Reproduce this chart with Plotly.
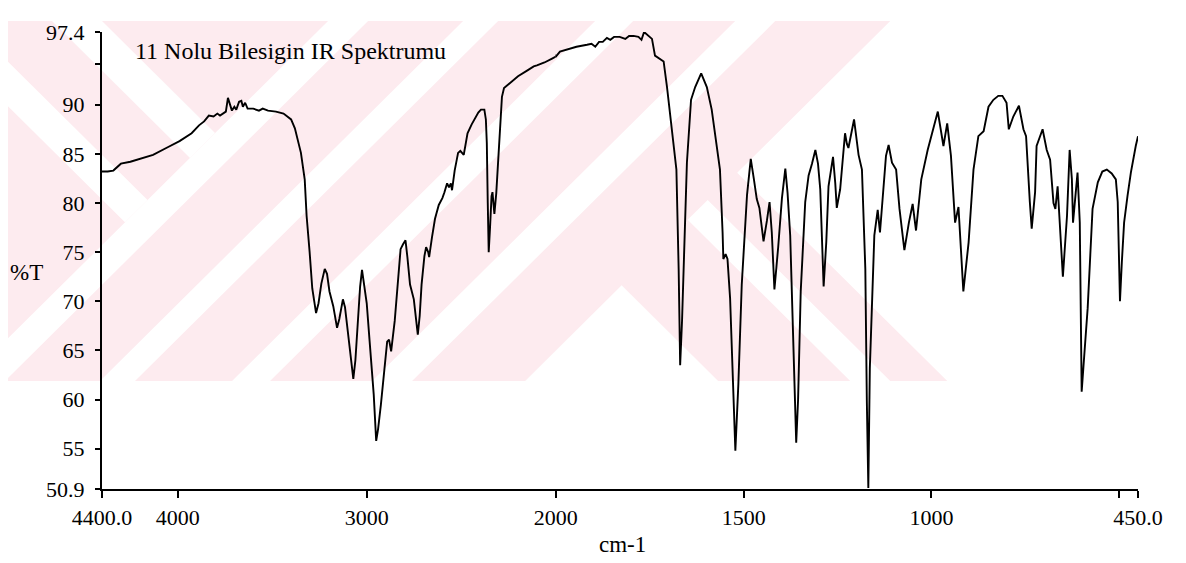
import plotly.graph_objects as go

# ---------------- data ----------------
wavenumber = [
    4400, 4370, 4340, 4300, 4250, 4200, 4130, 4050, 3990, 3926, 3887, 3860, 3835, 3810, 3790, 3776,
    3745, 3734, 3722, 3713, 3700, 3690, 3675, 3663, 3655, 3643, 3630, 3600, 3570, 3550, 3522, 3480,
    3440, 3400, 3380, 3369, 3348, 3328, 3318, 3302, 3288, 3268, 3255, 3240, 3222, 3210, 3197, 3177,
    3157, 3145, 3126, 3115, 3106, 3090, 3071, 3060, 3046, 3035, 3025, 3015, 3000, 2985, 2963, 2950,
    2940, 2925, 2913, 2900, 2892, 2882, 2871, 2852, 2835, 2821, 2808, 2795, 2785, 2771, 2751, 2740,
    2730, 2720, 2710, 2695, 2686, 2675, 2670, 2655, 2639, 2619, 2600, 2589, 2575, 2565, 2555, 2549,
    2535, 2517, 2505, 2487, 2467, 2445, 2427, 2410, 2396, 2378, 2370, 2365, 2360, 2355, 2348, 2340,
    2335, 2325, 2315, 2305, 2295, 2285, 2274, 2255, 2240, 2200, 2150, 2117, 2100, 2060, 2020, 2000,
    1989, 1970, 1945, 1917, 1905, 1895, 1885, 1875, 1864, 1855, 1845, 1830, 1815, 1805, 1793, 1780,
    1772, 1765, 1755, 1744, 1736, 1720, 1713, 1704, 1691, 1679, 1673, 1669, 1664, 1660, 1651, 1640,
    1629, 1613, 1598, 1585, 1563, 1556, 1554, 1548, 1543, 1536, 1527, 1522, 1514, 1505, 1491, 1481,
    1473, 1465, 1458, 1447, 1438, 1431, 1425, 1418, 1408, 1398, 1389, 1383, 1376, 1363, 1360, 1355,
    1348, 1336, 1327, 1318, 1309, 1302, 1296, 1287, 1280, 1274, 1262, 1256, 1252, 1243, 1230, 1225,
    1221, 1206, 1194, 1185, 1176, 1172, 1168, 1164, 1152, 1143, 1137, 1121, 1114, 1105, 1094, 1085,
    1072, 1060, 1050, 1041, 1027, 1010, 996, 983, 968, 958, 948, 941, 937, 928, 915, 901,
    888, 875, 861, 848, 835, 822, 811, 800, 794, 782, 767, 755, 748, 738, 733, 724,
    720, 704, 693, 684, 675, 670, 664, 650, 639, 632, 626, 623, 617, 611, 605, 600,
    594, 584, 571, 557, 545, 533, 520, 509, 504, 500, 498, 493, 487, 478, 469, 456,
    450,
]
transmittance = [
    83.2, 83.2, 83.3, 84.0, 84.2, 84.5, 84.9, 85.7, 86.3, 87.1, 87.9, 88.3, 88.9, 88.8, 89.1, 88.9,
    89.3, 90.7, 89.9, 89.4, 89.8, 89.5, 90.3, 90.4, 89.8, 90.2, 89.6, 89.6, 89.4, 89.6, 89.4, 89.3,
    89.1, 88.5, 87.6, 86.8, 85.1, 82.4, 78.7, 75.0, 71.3, 68.8, 69.8, 71.8, 73.3, 72.8, 71.0, 69.5,
    67.3, 68.2, 70.2, 69.4, 68.0, 65.0, 62.1, 64.0, 68.0, 71.5, 73.2, 72.0, 69.8, 66.0, 60.5, 55.8,
    57.0, 59.5, 61.6, 64.0, 65.9, 66.1, 64.9, 68.0, 72.0, 75.3, 75.8, 76.2, 74.5, 71.7, 70.2, 68.0,
    66.6, 68.5, 71.7, 74.6, 75.5, 75.0, 74.5, 76.5, 78.4, 79.8, 80.5, 81.1, 82.0, 81.6, 82.0, 81.3,
    83.3, 85.1, 85.3, 84.9, 87.1, 88.0, 88.6, 89.2, 89.5, 89.5, 88.5, 86.1, 80.0, 75.0, 77.5, 80.7,
    81.1, 78.9, 81.0, 84.1, 87.5, 90.8, 91.7, 92.0, 92.3, 92.9, 93.5, 93.9, 94.0, 94.3, 94.7, 94.9,
    95.4, 95.6, 95.9, 96.1, 96.2, 95.9, 96.4, 96.4, 96.8, 96.6, 96.9, 96.9, 96.7, 97.0, 97.0, 96.9,
    96.6, 97.4, 97.1, 96.7, 95.0, 94.6, 94.4, 91.8, 87.5, 83.4, 73.3, 63.5, 68.0, 73.3, 84.1, 90.5,
    91.8, 93.2, 91.8, 89.5, 83.4, 77.0, 74.3, 74.8, 74.3, 70.3, 59.9, 54.8, 61.6, 71.7, 80.8, 84.5,
    82.5, 80.4, 79.5, 76.1, 78.2, 80.1, 77.0, 71.2, 75.5, 80.5, 83.5, 81.0, 76.7, 59.9, 55.6, 60.0,
    71.0, 80.1, 82.8, 84.0, 85.4, 84.0, 81.4, 71.5, 76.0, 81.7, 84.7, 82.0, 79.5, 81.4, 87.1, 86.0,
    85.6, 88.5, 84.9, 83.4, 73.3, 59.9, 51.0, 63.2, 76.7, 79.3, 77.0, 84.8, 85.9, 84.1, 83.4, 79.4,
    75.2, 78.0, 79.9, 77.2, 82.4, 85.4, 87.5, 89.3, 85.8, 88.1, 84.8, 80.1, 78.0, 79.6, 71.0, 76.0,
    83.4, 86.8, 87.3, 89.8, 90.5, 90.9, 90.9, 90.2, 87.5, 88.8, 89.9, 87.5, 86.8, 80.1, 77.4, 81.1,
    85.8, 87.5, 85.4, 84.4, 80.0, 79.4, 81.7, 72.5, 78.7, 85.4, 82.4, 78.0, 81.0, 83.1, 78.0, 60.8,
    64.0, 69.3, 79.4, 82.1, 83.2, 83.4, 83.0, 82.4, 80.1, 72.7, 70.0, 74.0, 78.0, 80.7, 83.1, 85.8,
    86.8,
]

x_ticks_high = [4400, 4000, 3000, 2000]
x_labels_high = ["4400.0", "4000", "3000", "2000"]
x_ticks_low = [1500, 1000, 500, 450]
x_labels_low = ["1500", "1000", "", "450.0"]
y_ticks = [50.9, 55, 60, 65, 70, 75, 80, 85, 90, 94.1, 97.4]
y_labels = ["50.9", "55", "60", "65", "70", "75", "80", "85", "90", "", "97.4"]

title_text = "11 Nolu Bilesigin IR Spektrumu"
x_title = "cm-1"
y_title = "%T"

# ---------------- layout geometry (window pixels; page body has an 8px margin) ----------------
OFF = 8
W, H = 1186 - OFF, 563 - OFF
PLOT_L, PLOT_R, PLOT_T, PLOT_B = 102, 1137.7, 28, 489   # plot box in window pixels
L = PLOT_L - OFF
T = PLOT_T - OFF
R = W - (PLOT_R - OFF)
B = H - (PLOT_B - OFF)
PW = PLOT_R - PLOT_L
PH = PLOT_B - PLOT_T
split = 453.7 / 1035.7  # 4400-2000 section width fraction (scale doubles below 2000)

FONT = "Liberation Serif"
PINK = "#fdebef"


def px(x, y):
    """window pixel -> paper coordinates"""
    return (x - PLOT_L) / PW, (PLOT_B - y) / PH


def poly(points, color):
    pts = [px(x, y) for x, y in points]
    path = "M " + " L ".join(f"{a:.5f},{b:.5f}" for a, b in pts) + " Z"
    return dict(type="path", path=path, xref="paper", yref="paper", layer="below",
                fillcolor=color, line=dict(width=0))


# watermark (background decoration of the scanned page)
shapes = [poly([(0, 17), (890, 17), (737, 170), (947, 380), (0, 380)], PINK)]
for u1, u2 in [(345, 385), (480, 515), (612, 650), (752, 792)]:
    shapes.append(poly([(u1 - 17, 17), (u2 - 17, 17), (u2 - 380, 380), (u1 - 380, 380)], "white"))
shapes.append(poly([(52, 17), (102, 17), (215, 130), (190, 155)], "white"))
shapes.append(poly([(0, 50), (0, 95), (125, 220), (147.5, 197.5)], "white"))
shapes.append(poly([(621.5, 283.5), (525, 380), (718, 380)], "white"))
shapes.append(poly([(687.5, 217.5), (707.5, 197.5), (890, 380), (850, 380)], "white"))

line_style = dict(color="black", width=1.9)

fig = go.Figure()
fig.add_trace(go.Scatter(x=wavenumber, y=transmittance, mode="lines", line=line_style,
                         xaxis="x", yaxis="y", showlegend=False, hoverinfo="skip"))
fig.add_trace(go.Scatter(x=wavenumber, y=transmittance, mode="lines", line=line_style,
                         xaxis="x2", yaxis="y", showlegend=False, hoverinfo="skip"))

axis_common = dict(showline=True, linecolor="black", linewidth=2, showgrid=False, zeroline=False,
                   ticks="outside", tickcolor="black", tickwidth=1.5,
                   tickfont=dict(family=FONT, size=22, color="black"))

fig.update_layout(
    width=W, height=H,
    margin=dict(l=L, r=R, t=T, b=B),
    paper_bgcolor="white", plot_bgcolor="rgba(0,0,0,0)",
    xaxis=dict(domain=[0, split], range=[4400, 2000], tickmode="array",
               tickvals=x_ticks_high, ticktext=x_labels_high, ticklen=7,
               ticklabelstandoff=1, anchor="y", **axis_common),
    xaxis2=dict(domain=[split, 1], range=[2000, 450], tickmode="array",
                tickvals=x_ticks_low, ticktext=x_labels_low, ticklen=7,
                ticklabelstandoff=1, anchor="y", **axis_common),
    yaxis=dict(range=[50.9, 97.4], tickmode="array", tickvals=y_ticks, ticktext=y_labels,
               ticklen=5, ticklabelstandoff=6, anchor="x", **axis_common),
    shapes=shapes,
    annotations=[
        dict(text=title_text, xref="paper", yref="paper", x=px(133, 47)[0], y=px(133, 47)[1],
             xanchor="left", yanchor="middle", showarrow=False,
             font=dict(family=FONT, size=24, color="black")),
        dict(text=y_title, xref="paper", yref="paper", x=px(27, 271)[0], y=px(27, 271)[1],
             xanchor="center", yanchor="middle", showarrow=False,
             font=dict(family=FONT, size=23, color="black")),
        dict(text=x_title, xref="paper", yref="paper", x=px(622, 545)[0], y=px(622, 545)[1],
             xanchor="center", yanchor="middle", showarrow=False,
             font=dict(family=FONT, size=23, color="black")),
    ],
)

fig.write_html("out.html")
